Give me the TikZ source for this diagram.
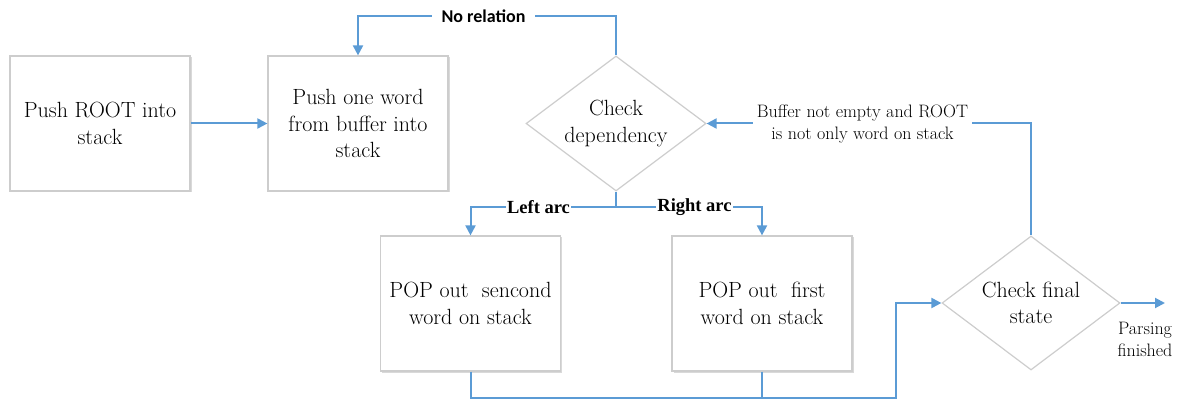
\documentclass[tikz,border=0pt]{standalone}
\usepackage{fontspec}
\newfontfamily\serfont{Latin Modern Roman}
\newfontfamily\libser{Liberation Serif}
\newfontfamily\calibfont{Carlito}
\usetikzlibrary{shapes.geometric,arrows.meta,shadows,calc}
\definecolor{flowblue}{RGB}{91,155,213}
\definecolor{boxgray}{RGB}{205,205,205}
\begin{document}
\begin{tikzpicture}[x=1pt,y=-1pt,
  box/.style={draw=boxgray, line width=1.2pt, fill=white, minimum width=180pt,
    minimum height=135pt, inner sep=0pt, align=center,
    font=\serfont\fontsize{22}{26.5}\selectfont,
    drop shadow={shadow xshift=1.5pt, shadow yshift=-1.5pt, opacity=0.15, fill=black}},
  dia/.style={shape=diamond, draw=boxgray, line width=1.2pt, fill=white, inner sep=0pt},
  txt/.style={align=center, inner sep=0pt, font=\serfont\fontsize{22}{26.5}\selectfont},
  conn/.style={draw=flowblue, line width=2pt},
  arr/.style={conn, -{Triangle[length=10pt,width=10pt]}},
  lbl/.style={fill=white, align=center},
]
\useasboundingbox (0,0) rectangle (1186,403);

% nodes
\node[box] (b1) at (100,123.5) {Push ROOT into\\stack};
\node[box] (b2) at (358,123.5) {Push one word\\from buffer into\\stack};
\node[dia, minimum width=180pt, minimum height=135pt] (d1) at (616,123.5) {};
\node[txt] (d1t) at (d1) {Check\\dependency};
\node[box] (b3) at (470.5,303.5) {POP out\ \ sencond\\word on stack};
\node[box] (b4) at (762,303.5) {POP out\ \ first\\word on stack};
\node[dia, minimum width=178pt, minimum height=134pt] (d2) at (1031,303) {};
\node[txt] (d2t) at (d2) {Check final\\state};

% helper coordinates
\coordinate (topy) at (0,16);
\coordinate (midy) at (0,207);
\coordinate (boty) at (0,398);
\coordinate (jx) at (896,0);
\coordinate (pend) at (1165,303);

% connectors
\draw[arr] (b1.east) -- (b2.west);
\draw[arr] (d1.north) -- (d1.north |- topy) -| (b2.north);
\draw[arr] (d1.south) -- (d1.south |- midy) -| (b3.north);
\draw[arr] (d1.south |- midy) -| (b4.north);
\draw[arr] (b3.south) |- (jx |- boty) |- (d2.west);
\draw[conn] (b4.south) -- (b4.south |- boty);
\draw[arr] (d2.north) |- (d1.east);
\draw[arr] (d2.east) -- (pend);

% labels
\node[lbl, inner xsep=10pt, inner ysep=2pt, font=\calibfont\bfseries\fontsize{18}{22}\selectfont] (lnr) at (483.5,16) {No relation};
\node[lbl, inner xsep=1pt, inner ysep=1pt, font=\libser\bfseries\fontsize{18.5}{22}\selectfont] (lla) at (538.5,207) {Left arc};
\node[lbl, inner xsep=1pt, inner ysep=1pt, font=\libser\bfseries\fontsize{18.5}{22}\selectfont] (lra) at (694.5,207) {Right arc};
\node[lbl, inner xsep=4pt, inner ysep=1pt, font=\serfont\fontsize{18}{22}\selectfont] (lbuf) at (862.5,124) {Buffer not empty and ROOT\\is not only word on stack};
\node[align=center, inner sep=0pt, font=\serfont\fontsize{18}{22}\selectfont] (lpf) at (1145,339) {Parsing\\finished};
\end{tikzpicture}
\end{document}
